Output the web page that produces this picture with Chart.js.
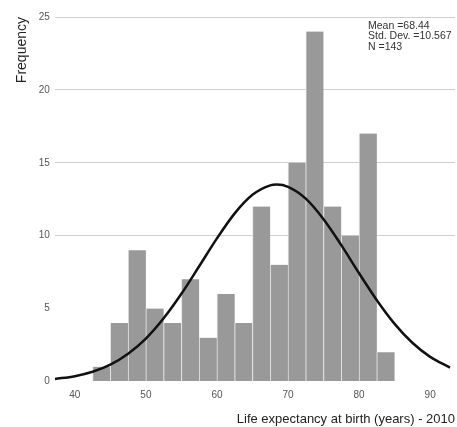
<!DOCTYPE html>
<html>
<head>
<meta charset="utf-8">
<script src="https://cdn.jsdelivr.net/npm/chart.js@4.4.1/dist/chart.umd.min.js"></script>
<style>
  html, body { margin: 0; padding: 0; background: #fff; }
  #wrap { width: 457px; height: 427px; }
</style>
</head>
<body>
<div id="wrap"><canvas id="hist"></canvas></div>
<script>
// Histogram bins (2.5 years wide), life expectancy at birth 2010
const binStarts = [42.5, 45, 47.5, 50, 52.5, 55, 57.5, 60, 62.5, 65, 67.5, 70, 72.5, 75, 77.5, 80, 82.5];
const binCounts = [1, 4, 9, 5, 4, 7, 3, 6, 4, 12, 8, 15, 24, 12, 10, 17, 2];
const binWidth = 2.5;

// Fitted normal curve
const curveX = [37.2, 40, 42.5, 45, 47.5, 50, 52.5, 55, 57.5, 60, 62.5, 65, 67.5, 68.44, 70, 72.5, 75, 77.5, 80, 82.5, 85, 87.5, 90, 92.8];
const curveY = [0.17, 0.36, 0.66, 1.15, 1.9, 2.94, 4.33, 6.01, 7.9, 9.81, 11.53, 12.8, 13.45, 13.5, 13.35, 12.54, 11.13, 9.35, 7.42, 5.57, 3.95, 2.65, 1.68, 0.95];

const statsLines = ['Mean =68.44', 'Std. Dev. =10.567', 'N =143'];

const histData = binStarts.map((s, i) => ({ x: s + binWidth / 2, y: binCounts[i] }));
const curveData = curveX.map((x, i) => ({ x: x, y: curveY[i] }));

const statsBox = {
    id: 'statsBox',
    afterDraw(chart) {
        const ctx = chart.ctx;
        ctx.save();
        ctx.font = '10.5px "Liberation Sans", Arial, sans-serif';
        ctx.fillStyle = '#333';
        ctx.textBaseline = 'middle';
        statsLines.forEach((line, i) => ctx.fillText(line, 368, 26 + i * 10.5));
        ctx.restore();
    }
};

const ctx = document.getElementById('hist').getContext('2d');
new Chart(ctx, {
    type: 'bar',
    data: {
        datasets: [
            {
                type: 'line',
                data: curveData,
                borderColor: '#111',
                borderWidth: 2.5,
                pointRadius: 0,
                cubicInterpolationMode: 'monotone',
                fill: false,
                order: 0
            },
            {
                data: histData,
                backgroundColor: '#999999',
                borderColor: '#e4e4e4',
                borderWidth: { left: 1, right: 0, top: 0, bottom: 0 },
                borderSkipped: false,
                barPercentage: 1,
                categoryPercentage: 1,
                order: 1
            }
        ]
    },
    options: {
        responsive: true,
        maintainAspectRatio: false,
        animation: false,
        layout: { padding: { left: 14, right: 2, top: 17, bottom: 0 } },
        plugins: { legend: { display: false }, tooltip: { enabled: false } },
        scales: {
            x: {
                type: 'linear',
                min: 37.2,
                max: 93.5,
                offset: false,
                grid: { display: false, drawTicks: false },
                border: { display: false },
                ticks: {
                    stepSize: 10,
                    includeBounds: false,
                    padding: 8,
                    color: '#555',
                    font: { family: '"Liberation Sans", Arial, sans-serif', size: 10 }
                },
                title: {
                    display: true,
                    text: 'Life expectancy at birth (years) - 2010',
                    align: 'end',
                    color: '#222',
                    padding: { top: 2, bottom: 0 },
                    font: { family: '"Liberation Sans", Arial, sans-serif', size: 13 }
                }
            },
            y: {
                min: 0,
                max: 25,
                grid: {
                    drawTicks: false,
                    lineWidth: 1,
                    color: c => (c.tick && c.tick.value >= 10) ? '#cfcfcf' : 'rgba(0,0,0,0)'
                },
                border: { display: false },
                ticks: {
                    stepSize: 5,
                    padding: 5,
                    color: '#555',
                    font: { family: '"Liberation Sans", Arial, sans-serif', size: 10 }
                },
                title: {
                    display: true,
                    text: 'Frequency',
                    align: 'end',
                    color: '#222',
                    padding: { top: 0, bottom: 3 },
                    font: { family: '"Liberation Sans", Arial, sans-serif', size: 14 }
                }
            }
        }
    },
    plugins: [statsBox]
});
</script>
</body>
</html>
